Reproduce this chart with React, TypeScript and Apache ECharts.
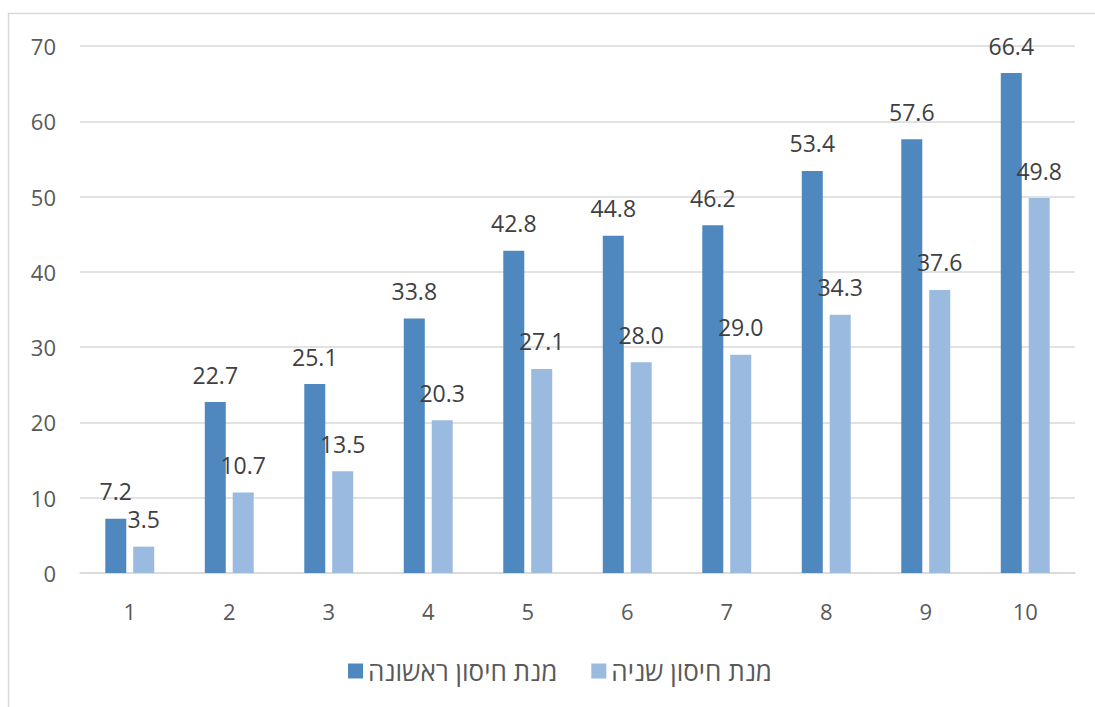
import React, { useEffect, useRef } from "react";
import * as echarts from "echarts";

const categories = ["1", "2", "3", "4", "5", "6", "7", "8", "9", "10"];
const firstDose = [7.2, 22.7, 25.1, 33.8, 42.8, 44.8, 46.2, 53.4, 57.6, 66.4];
const secondDose = [3.5, 10.7, 13.5, 20.3, 27.1, 28.0, 29.0, 34.3, 37.6, 49.8];
const seriesNames = ["מנת חיסון ראשונה", "מנת חיסון שניה"];
const colors = ["#4F88BE", "#9ABAE0"];

const FONT = "'Open Sans', 'Noto Sans', 'DejaVu Sans', sans-serif";
const TEXT = "#595959";

export default function App() {
  const ref = useRef<HTMLDivElement>(null);
  useEffect(() => {
    document.body.style.margin = "0";
    const chart = echarts.init(ref.current!, null, { renderer: "svg" });
    const label = {
      show: true,
      position: "top" as const,
      distance: 16,
      color: "#404040",
      fontFamily: FONT,
      fontSize: 23,
      formatter: (p: any) => Number(p.value).toFixed(1),
    };
    chart.setOption({
      animation: false,
      backgroundColor: "#fff",
      graphic: [
        {
          type: "rect",
          shape: { x: 8.5, y: 13.5, width: 1200, height: 800 },
          style: { fill: "none", stroke: "#D9D9D9", lineWidth: 1.5 },
          silent: true,
        },
      ],
      grid: { left: 80, right: 20, top: 46, bottom: 134 },
      legend: {
        left: 343,
        top: 653,
        itemWidth: 15,
        itemHeight: 15,
        itemGap: 34,
        icon: "rect",
        textStyle: { color: TEXT, fontFamily: FONT, fontSize: 26 },
        data: seriesNames,
      },
      xAxis: {
        type: "category",
        data: categories,
        axisLine: { lineStyle: { color: "#D9D9D9", width: 1.5 } },
        axisTick: { show: false },
        axisLabel: { color: TEXT, fontFamily: FONT, fontSize: 22, margin: 27 },
      },
      yAxis: {
        type: "value",
        min: 0,
        max: 70,
        interval: 10,
        axisLine: { show: false },
        axisTick: { show: false },
        splitLine: { lineStyle: { color: "#D9D9D9", width: 1.5 } },
        axisLabel: { color: TEXT, fontFamily: FONT, fontSize: 22, margin: 24 },
      },
      series: [
        {
          name: seriesNames[0],
          type: "bar",
          data: firstDose,
          barWidth: 21,
          barGap: "33%",
          itemStyle: { color: colors[0] },
          label,
        },
        {
          name: seriesNames[1],
          type: "bar",
          data: secondDose,
          barWidth: 21,
          barGap: "33%",
          itemStyle: { color: colors[1] },
          label,
        },
      ],
    });
    return () => chart.dispose();
  }, []);
  return <div ref={ref} style={{ width: 1095, height: 707 }} />;
}
